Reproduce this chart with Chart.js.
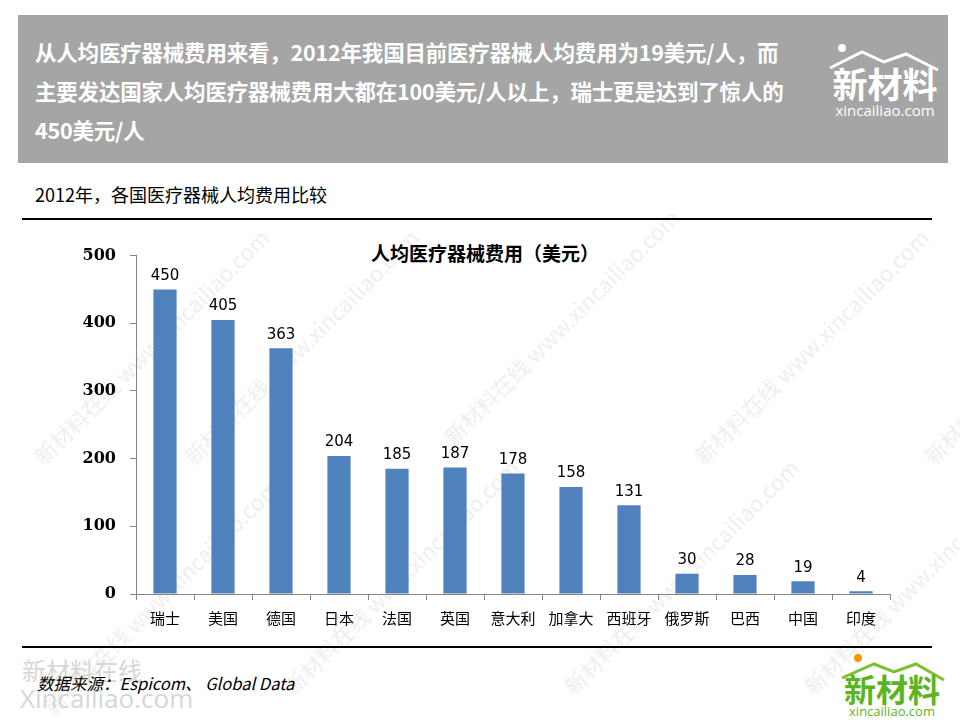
<!DOCTYPE html>
<html>
<head>
<meta charset="utf-8">
<script src="https://cdn.jsdelivr.net/npm/chart.js@4.4.1/dist/chart.umd.min.js"></script>
<style>
  body { margin: 0; width: 960px; height: 720px; background: #fff; position: relative; overflow: hidden;
         font-family: "Noto Sans CJK SC", "Noto Sans", sans-serif; }
  .abs { position: absolute; }
  #header { left: 18px; top: 15px; width: 930px; height: 148px; background: #A5A5A5; }
  #headText { left: 35px; top: 32px; color: #fff; font-weight: bold; font-size: 21.5px; line-height: 39px; letter-spacing: -0.2px; }
  #sub { left: 35px; top: 181px; font-size: 18px; color: #000; }
  .rule { background: #000; height: 2px; }
  #ctitle { left: 300px; top: 239px; width: 370px; text-align: center; font-weight: bold; font-size: 19px; color: #000; }
  #src { left: 37px; top: 671px; font-style: italic; font-size: 16.5px; color: #000; }
  .wm { color: #efefef; font-size: 22px; transform: rotate(-45deg); white-space: nowrap; }
  #chartBox { left: 56px; top: 232px; width: 844px; height: 408px; }
</style>
</head>
<body>
<div id="header" class="abs"></div>
<div id="headText" class="abs">从人均医疗器械费用来看，2012年我国目前医疗器械人均费用为19美元/人，而<br>主要发达国家人均医疗器械费用大都在100美元/人以上，瑞士更是达到了惊人的<br>450美元/人</div>
<!-- header logo -->
<svg class="abs" style="left:822px;top:40px" width="126" height="80">
  <circle cx="20" cy="8" r="4" fill="#fff"/>
  <polyline points="8,28 40,12 62,22 84,14 116,30" fill="none" stroke="#fff" stroke-width="3"/>
  <text x="63" y="58" text-anchor="middle" fill="#fff" font-size="35" font-weight="bold" font-family="Noto Sans CJK SC">新材料</text>
  <text x="63" y="76" text-anchor="middle" fill="#fff" font-size="15" font-family="Open Sans">xincailiao.com</text>
</svg>

<!-- watermarks -->
<div class="abs wm" style="left:-10px;top:330px">新材料在线 www.xincailiao.com</div>
<div class="abs wm" style="left:140px;top:330px">新材料在线 www.xincailiao.com</div>
<div class="abs wm" style="left:400px;top:310px">新材料在线 www.xincailiao.com</div>
<div class="abs wm" style="left:650px;top:330px">新材料在线 www.xincailiao.com</div>
<div class="abs wm" style="left:880px;top:330px">新材料在线 www.xincailiao.com</div>
<div class="abs wm" style="left:0px;top:580px">新材料在线 www.xincailiao.com</div>
<div class="abs wm" style="left:240px;top:560px">新材料在线 www.xincailiao.com</div>
<div class="abs wm" style="left:520px;top:560px">新材料在线 www.xincailiao.com</div>
<div class="abs wm" style="left:760px;top:560px">新材料在线 www.xincailiao.com</div>
<div class="abs" style="left:22px;top:652px;color:#d6d6d6;font-size:24px">新材料在线</div>
<div class="abs" style="left:20px;top:680px;color:#d6d6d6;font-size:26px;font-family:'Open Sans'">Xincailiao.com</div>

<div id="sub" class="abs">2012年，各国医疗器械人均费用比较</div>
<div class="abs rule" style="left:22px;top:218px;width:910px"></div>
<div class="abs rule" style="left:22px;top:646px;width:910px"></div>
<div id="ctitle" class="abs">人均医疗器械费用（美元）</div>
<div id="src" class="abs">数据来源：Espicom、 Global Data</div>

<!-- bottom logo -->
<svg class="abs" style="left:836px;top:652px" width="116" height="66">
  <circle cx="22" cy="6" r="4" fill="#F39800"/>
  <polyline points="6,26 38,12 58,20 80,12 108,28" fill="none" stroke="#7DC12B" stroke-width="3"/>
  <text x="56" y="50" text-anchor="middle" fill="#5DB41E" font-size="32" font-weight="bold" font-family="Noto Sans CJK SC">新材料</text>
  <text x="56" y="64" text-anchor="middle" fill="#5DB41E" font-size="13" font-family="Open Sans">xincailiao.com</text>
</svg>

<div id="chartBox" class="abs"><canvas id="costChart"></canvas></div>

<script>
const countries = ['瑞士', '美国', '德国', '日本', '法国', '英国', '意大利', '加拿大', '西班牙', '俄罗斯', '巴西', '中国', '印度'];
const costPerPerson = [450, 405, 363, 204, 185, 187, 178, 158, 131, 30, 28, 19, 4];
const yTicks = [0, 100, 200, 300, 400, 500];

// value labels above bars
const valueLabels = {
  id: 'valueLabels',
  afterDatasetsDraw(chart) {
    const ctx = chart.ctx;
    const meta = chart.getDatasetMeta(0);
    ctx.save();
    ctx.font = '15px "DejaVu Sans", sans-serif';
    ctx.fillStyle = '#000';
    ctx.textAlign = 'center';
    ctx.textBaseline = 'bottom';
    meta.data.forEach((bar, i) => {
      ctx.fillText(costPerPerson[i], bar.x, bar.y - 6);
    });
    ctx.restore();
  }
};

const costChart = document.getElementById('costChart');

var barChart = new Chart(costChart, {
  type: 'bar',
  data: {
    labels: countries,
    datasets: [{
      data: costPerPerson,
      backgroundColor: '#4F81BD',
      barPercentage: 0.4,
      categoryPercentage: 1
    }]
  },
  options: {
    responsive: true,
    maintainAspectRatio: false,
    animation: false,
    layout: { padding: { left: 0, right: 10, top: 10, bottom: 0 } },
    plugins: {
      legend: { display: false },
      title: { display: false },
      tooltip: { enabled: false }
    },
    scales: {
      x: {
        grid: { display: true, offset: true, drawOnChartArea: false, tickLength: 6, color: '#868686' },
        border: { color: '#868686' },
        ticks: { color: '#000', font: { size: 15, family: '"Noto Sans CJK SC"' }, padding: 9, maxRotation: 0, autoSkip: false },
        afterFit(scale) { scale.height = 46; }
      },
      y: {
        min: 0,
        max: 500,
        afterBuildTicks(scale) { scale.ticks = yTicks.map(v => ({ value: v })); },
        grid: { display: true, drawOnChartArea: false, tickLength: 6, color: '#868686' },
        border: { color: '#868686' },
        ticks: { color: '#000', font: { size: 16, weight: 'bold', family: '"DejaVu Serif"' }, padding: 14 },
        afterFit(scale) { scale.width = 80; }
      }
    }
  },
  plugins: [valueLabels]
});
</script>
</body>
</html>
